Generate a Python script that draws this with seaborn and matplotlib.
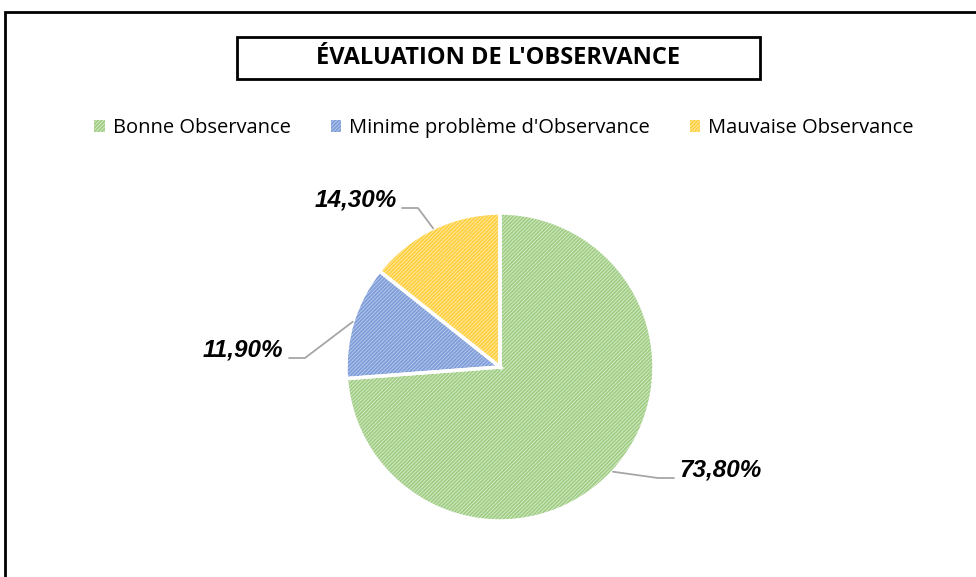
import matplotlib
matplotlib.use("Agg")
import matplotlib.pyplot as plt
import seaborn as sns
import numpy as np
from matplotlib.patches import Rectangle

sns.set_theme(style="white")
plt.rcParams['font.family'] = ['Open Sans', 'DejaVu Sans']
plt.rcParams['text.color'] = 'black'
plt.rcParams['hatch.linewidth'] = 1.3

# données
categories = ["Bonne Observance", "Minime problème d'Observance", "Mauvaise Observance"]
valeurs = [73.8, 11.9, 14.3]
etiquettes = ["73,80%", "11,90%", "14,30%"]

fond = ["#DCEDD0", "#BCCDEE", "#FFEDB0"]
hachure = ["#A0CD84", "#7F9DD8", "#FFCF3F"]

fig = plt.figure(figsize=(9.76, 5.77), dpi=100)
ax = fig.add_axes([0, 0, 1, 1])

centre = (500, 210)
rayon = 154
wedges, _ = ax.pie(valeurs, center=centre, radius=rayon, startangle=90,
                   counterclock=False, colors=fond)
for w, hc in zip(wedges, hachure):
    w.set_hatch('/' * 9)
    w.set_edgecolor(hc)
    w.set_linewidth(0)

# séparations blanches
ax.pie(valeurs, center=centre, radius=rayon, startangle=90, counterclock=False,
       wedgeprops=dict(fill=False, edgecolor='white', linewidth=2.5))

ax.set_xlim(0, 976)
ax.set_ylim(0, 577)
ax.axis('off')

# lignes de rappel + étiquettes
coudes = [(658, 99), (305, 219), (418, 369)]
fins = [(674, 99), (289, 219), (402, 369)]
pos_txt = [(679, 107, 'left'), (283, 227, 'right'), (397, 377, 'right')]
for w, c, f, (tx, ty, ha), lab in zip(wedges, coudes, fins, pos_txt, etiquettes):
    ang = np.deg2rad((w.theta1 + w.theta2) / 2)
    p = (centre[0] + rayon * np.cos(ang), centre[1] + rayon * np.sin(ang))
    ax.plot([p[0], c[0], f[0]], [p[1], c[1], f[1]], color='#A6A6A6', lw=1.3)
    ax.text(tx, ty, lab, ha=ha, va='center', fontsize=17.5, fontweight='bold',
            fontstyle='italic', color='black',
            family=['Liberation Sans', 'DejaVu Sans'])

# titre encadré
ax.add_patch(Rectangle((237, 498), 523, 42, fill=False, edgecolor='black', lw=2))
ax.text(498, 519, "ÉVALUATION DE L'OBSERVANCE", ha='center', va='center',
        fontsize=17, fontweight='bold', color='black')

# légende
ax.legend(wedges, categories, loc='center', bbox_to_anchor=(504 / 976, 449 / 577),
          ncol=3, frameon=False, handlelength=0.5, handleheight=0.5,
          handletextpad=0.4, columnspacing=2.0, fontsize=14.5, labelcolor='black')

# cadre extérieur
ax.add_patch(Rectangle((5, -10), 990, 575, fill=False, edgecolor='black', lw=2,
                       clip_on=False))

fig.savefig("out.png", dpi=100)
